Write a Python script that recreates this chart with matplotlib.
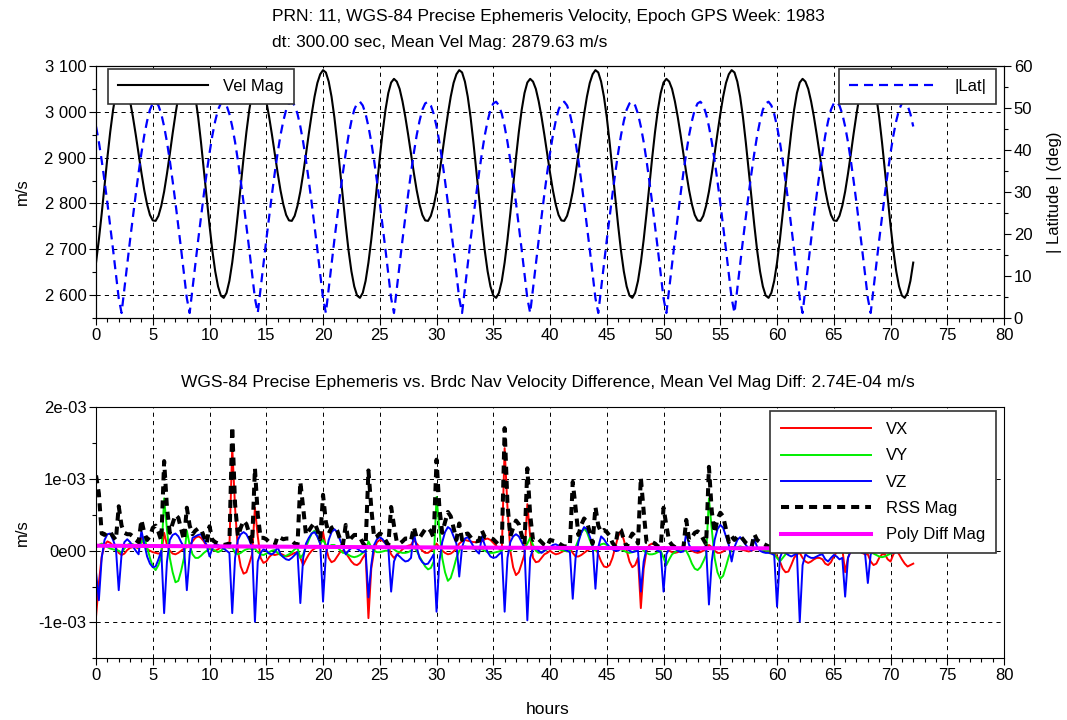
import numpy as np
import matplotlib
matplotlib.use("Agg")
import matplotlib.pyplot as plt
from matplotlib.ticker import MultipleLocator

# velocity magnitude (m/s), one sample every 15 min from 0 h to 72 h
vel_mag = [
    2671, 2721, 2778, 2839, 2900, 2956, 3004, 3041, 3064, 3072, 3066, 3050,
    3023, 2989, 2950, 2908, 2867, 2829, 2798, 2775, 2763, 2762, 2773, 2795,
    2826, 2865, 2908, 2953, 2995, 3033, 3063, 3082, 3091, 3086, 3066, 3033,
    2988, 2933, 2873, 2812, 2752, 2697, 2652, 2619, 2599, 2594, 2605, 2631,
    2671, 2721, 2778, 2839, 2900, 2956, 3004, 3041, 3064, 3072, 3066, 3050,
    3023, 2989, 2950, 2908, 2867, 2829, 2798, 2775, 2763, 2762, 2773, 2795,
    2826, 2865, 2908, 2953, 2995, 3033, 3063, 3082, 3091, 3086, 3066, 3033,
    2988, 2933, 2873, 2812, 2752, 2697, 2652, 2619, 2599, 2594, 2605, 2631,
    2671, 2721, 2778, 2839, 2900, 2956, 3004, 3041, 3064, 3072, 3066, 3050,
    3023, 2989, 2950, 2908, 2867, 2829, 2798, 2775, 2763, 2762, 2773, 2795,
    2826, 2865, 2908, 2953, 2995, 3033, 3063, 3082, 3091, 3086, 3066, 3033,
    2988, 2933, 2873, 2812, 2752, 2697, 2652, 2619, 2599, 2594, 2605, 2631,
    2671, 2721, 2778, 2839, 2900, 2956, 3004, 3041, 3064, 3072, 3066, 3050,
    3023, 2989, 2950, 2908, 2867, 2829, 2798, 2775, 2763, 2762, 2773, 2795,
    2826, 2865, 2908, 2953, 2995, 3033, 3063, 3082, 3091, 3086, 3066, 3033,
    2988, 2933, 2873, 2812, 2752, 2697, 2652, 2619, 2599, 2594, 2605, 2631,
    2671, 2721, 2778, 2839, 2900, 2956, 3004, 3041, 3064, 3072, 3066, 3050,
    3023, 2989, 2950, 2908, 2867, 2829, 2798, 2775, 2763, 2762, 2773, 2795,
    2826, 2865, 2908, 2953, 2995, 3033, 3063, 3082, 3091, 3086, 3066, 3033,
    2988, 2933, 2873, 2812, 2752, 2697, 2652, 2619, 2599, 2594, 2605, 2631,
    2671, 2721, 2778, 2839, 2900, 2956, 3004, 3041, 3064, 3072, 3066, 3050,
    3023, 2989, 2950, 2908, 2867, 2829, 2798, 2775, 2763, 2762, 2773, 2795,
    2826, 2865, 2908, 2953, 2995, 3033, 3063, 3082, 3091, 3086, 3066, 3033,
    2988, 2933, 2873, 2812, 2752, 2697, 2652, 2619, 2599, 2594, 2605, 2631,
    2671,
]

# |latitude| (deg), same 15 min sampling
lat_abs = [
    45.6, 41.9, 37.5, 32.6, 27.4, 21.9, 16.3, 10.5, 4.7, 1.2, 7.0, 12.8,
    18.6, 24.1, 29.5, 34.6, 39.3, 43.5, 46.9, 49.6, 51.1, 51.5, 50.6, 48.6,
    45.6, 41.9, 37.5, 32.6, 27.4, 21.9, 16.3, 10.5, 4.7, 1.2, 7.0, 12.8,
    18.6, 24.1, 29.5, 34.6, 39.3, 43.5, 46.9, 49.6, 51.1, 51.5, 50.6, 48.6,
    45.6, 41.9, 37.5, 32.6, 27.4, 21.9, 16.3, 10.5, 4.7, 1.2, 7.0, 12.8,
    18.6, 24.1, 29.5, 34.6, 39.3, 43.5, 46.9, 49.6, 51.1, 51.5, 50.6, 48.6,
    45.6, 41.9, 37.5, 32.6, 27.4, 21.9, 16.3, 10.5, 4.7, 1.2, 7.0, 12.8,
    18.6, 24.1, 29.5, 34.6, 39.3, 43.5, 46.9, 49.6, 51.1, 51.5, 50.6, 48.6,
    45.6, 41.9, 37.5, 32.6, 27.4, 21.9, 16.3, 10.5, 4.7, 1.2, 7.0, 12.8,
    18.6, 24.1, 29.5, 34.6, 39.3, 43.5, 46.9, 49.6, 51.1, 51.5, 50.6, 48.6,
    45.6, 41.9, 37.5, 32.6, 27.4, 21.9, 16.3, 10.5, 4.7, 1.2, 7.0, 12.8,
    18.6, 24.1, 29.5, 34.6, 39.3, 43.5, 46.9, 49.6, 51.1, 51.5, 50.6, 48.6,
    45.6, 41.9, 37.5, 32.6, 27.4, 21.9, 16.3, 10.5, 4.7, 1.2, 7.0, 12.8,
    18.6, 24.1, 29.5, 34.6, 39.3, 43.5, 46.9, 49.6, 51.1, 51.5, 50.6, 48.6,
    45.6, 41.9, 37.5, 32.6, 27.4, 21.9, 16.3, 10.5, 4.7, 1.2, 7.0, 12.8,
    18.6, 24.1, 29.5, 34.6, 39.3, 43.5, 46.9, 49.6, 51.1, 51.5, 50.6, 48.6,
    45.6, 41.9, 37.5, 32.6, 27.4, 21.9, 16.3, 10.5, 4.7, 1.2, 7.0, 12.8,
    18.6, 24.1, 29.5, 34.6, 39.3, 43.5, 46.9, 49.6, 51.1, 51.5, 50.6, 48.6,
    45.6, 41.9, 37.5, 32.6, 27.4, 21.9, 16.3, 10.5, 4.7, 1.2, 7.0, 12.8,
    18.6, 24.1, 29.5, 34.6, 39.3, 43.5, 46.9, 49.6, 51.1, 51.5, 50.6, 48.6,
    45.6, 41.9, 37.5, 32.6, 27.4, 21.9, 16.3, 10.5, 4.7, 1.2, 7.0, 12.8,
    18.6, 24.1, 29.5, 34.6, 39.3, 43.5, 46.9, 49.6, 51.1, 51.5, 50.6, 48.6,
    45.6, 41.9, 37.5, 32.6, 27.4, 21.9, 16.3, 10.5, 4.7, 1.2, 7.0, 12.8,
    18.6, 24.1, 29.5, 34.6, 39.3, 43.5, 46.9, 49.6, 51.1, 51.5, 50.6, 48.6,
    45.6,
]

# precise - broadcast velocity differences, in 1e-4 m/s, 15 min sampling
# (each row holds two 2 h ephemeris blocks)
vx_e4 = [
    -9.2, -4.5, -0.8, 0.8, 1.3, 1.1, 0.7, 0.4, -0.3, -0.6, -0.4, 0.1, 0.4, 0.5, 0.5, 0.3,
    1.8, 0.8, 0.2, 0.0, -0.2, -0.3, -0.4, -0.3, 2.5, 0.8, 0.0, -0.4, -0.5, -0.3, 0.0, 0.3,
    0.5, 0.8, 1.3, 1.8, 2.0, 1.8, 1.3, 0.6, 0.3, 0.1, 0.0, 0.2, 0.5, 0.6, 0.6, 0.5,
    14.5, 6.0, 0.0, -2.2, -3.2, -3.0, -1.8, -0.5, 6.0, 2.0, -1.0, -1.7, -1.5, -0.9, -0.5, -0.6,
    -0.5, -0.4, -0.6, -0.8, -0.7, -0.5, -0.3, -0.2, -1.0, -2.0, -1.2, -0.5, 0.0, 0.3, 0.5, 0.8,
    2.6, 0.5, -1.0, -1.6, -1.4, -0.8, -0.2, 0.0, -0.3, -0.9, -1.5, -1.9, -2.0, -1.7, -1.0, -0.4,
    -9.4, -2.5, 0.0, 1.2, 1.5, 1.4, 1.0, 0.5, -0.5, -1.0, -0.6, -0.2, 0.2, 0.5, 0.7, 0.8,
    1.5, 1.0, 0.5, 0.0, -0.3, -0.3, 0.0, 0.3, 1.0, 0.5, 0.0, -0.3, -0.5, -0.4, -0.1, 0.3,
    1.0, 1.3, 1.5, 1.4, 1.3, 1.2, 1.2, 1.3, 1.3, 1.6, 1.7, 1.5, 1.1, 0.7, 0.3, 0.0,
    14.3, 6.0, 0.0, -2.3, -3.4, -3.0, -1.8, -0.5, 6.5, 2.0, -1.0, -1.6, -1.5, -1.0, -0.5, -0.3,
    0.0, -0.3, -0.5, -0.4, -0.2, 0.0, 0.2, 0.3, -0.3, -0.8, -0.8, -0.6, -0.3, 0.0, 0.2, 0.3,
    0.5, -0.5, -1.5, -2.2, -2.3, -2.0, -1.0, 0.5, 2.0, 2.8, 1.5, 0.0, -1.5, -2.3, -2.0, -1.0,
    -8.0, -2.5, 0.0, 0.8, 1.0, 0.8, 0.5, 0.3, 0.5, 0.3, 0.0, -0.2, -0.3, -0.2, 0.0, 0.1,
    0.3, 0.2, 0.0, -0.2, -0.3, -0.2, 0.0, 0.2, 0.8, 0.5, 0.0, -0.3, -0.3, -0.1, 0.2, 0.4,
    0.5, 0.5, 0.3, 0.2, 0.1, 0.0, -0.1, 0.0, 0.2, 0.3, 0.3, 0.2, 0.0, -0.2, -0.3, -0.3,
    -0.8, -1.5, -2.5, -3.0, -2.9, -2.0, -1.0, -0.5, -0.3, -1.0, -1.5, -1.7, -1.5, -1.2, -1.0, -1.0,
    -1.2, -1.8, -2.0, -1.6, -0.8, -0.2, 0.2, 0.3, -3.0, -1.0, 0.0, 0.3, 0.2, 0.0, -0.3, -0.5,
    -0.5, -1.5, -2.0, -1.8, -1.0, -0.5, -0.5, -1.2, -1.5, -0.5, 0.0, -0.5, -1.2, -1.8, -2.2, -2.0,
    -1.8,
]

vy_e4 = [
    0.4, 0.8, 1.0, 0.8, 0.5, 0.3, 0.2, 0.1, 0.0, -0.3, 0.3, 0.8, 1.0, 0.9, 0.6, 0.4,
    1.2, 1.8, 0.5, -1.0, -2.2, -2.7, -2.0, -0.8, 7.3, 3.0, -1.0, -3.0, -4.4, -4.2, -2.8, -1.0,
    2.8, 0.8, -0.5, -1.0, -1.0, -0.7, -0.3, 0.0, 0.3, 0.2, 0.0, -0.2, 0.0, 0.3, 0.5, 0.4,
    0.5, -0.3, -0.5, -0.3, 0.0, 0.2, 0.3, 0.2, 0.3, -0.2, -0.5, -0.6, -0.4, -0.2, 0.0, 0.1,
    -0.3, -0.6, -0.8, -0.7, -0.5, -0.2, 0.2, 0.4, -1.0, -0.5, 0.5, 1.5, 2.4, 2.8, 2.0, 1.0,
    1.5, 0.8, 0.6, 0.8, 0.8, 0.5, 0.1, -0.3, -0.3, -0.6, -0.8, -0.9, -0.8, -0.6, -0.3, 0.0,
    1.3, 0.5, 0.0, -0.2, -0.2, -0.1, 0.0, 0.0, 0.5, 0.2, -0.1, -0.2, -0.3, -0.3, -0.2, 0.0,
    0.5, 0.0, -0.8, -1.5, -2.2, -2.6, -2.4, -1.5, 7.5, 3.0, -1.0, -3.0, -4.2, -3.8, -2.5, -1.0,
    0.0, 0.5, 0.6, 0.5, 0.4, 0.3, 0.3, 0.2, 0.2, 0.0, -0.2, -0.3, -0.3, -0.2, -0.1, 0.0,
    0.5, 0.2, 0.0, 0.3, 0.5, 0.5, 0.4, 0.3, 1.0, 1.8, 0.8, 0.0, -0.3, -0.2, 0.0, 0.2,
    0.3, 0.4, 0.3, 0.2, 0.1, 0.0, -0.1, 0.0, 0.5, 0.5, 1.5, 2.5, 3.1, 2.6, 1.5, 0.5,
    0.0, 0.5, 0.9, 1.0, 0.8, 0.5, 0.3, 0.3, 0.3, 0.2, 0.0, -0.2, -0.3, -0.2, 0.0, 0.2,
    0.5, 0.0, -0.3, -0.5, -0.5, -0.4, -0.2, 0.0, -1.0, -2.0, -1.2, -0.5, -0.2, 0.0, 0.1, 0.0,
    0.0, -0.8, -1.8, -2.5, -2.7, -2.3, -1.5, -0.6, 7.3, 3.0, -1.0, -3.0, -3.9, -3.5, -2.2, -0.8,
    0.2, 0.4, 0.5, 0.6, 0.5, 0.4, 0.3, 0.2, 0.3, 0.3, 0.2, 0.1, 0.0, 0.0, -0.2, -0.5,
    -1.0, -1.5, -1.0, -0.5, -0.2, 0.0, 0.1, 0.2, 0.2, 0.0, -0.2, -0.3, -0.2, 0.0, 0.2, 0.3,
    0.2, 0.3, 0.3, 0.2, 0.0, -0.1, -0.1, 0.0, -0.2, -0.3, 0.0, 0.2, 0.2, 0.0, -0.1, 0.0,
    0.0, -0.2, -0.4, -0.6, -0.8, -0.9, -0.8, -0.6, -0.4, -0.2, 0.0, 0.2, 0.3, 0.4, 0.5, 0.6,
    0.7,
]

vz_e4 = [
    -3.0, -6.9, -1.0, 1.5, 2.3, 2.4, 1.5, 0.4, -5.5, -0.5, 1.2, 1.6, 1.2, 0.6, 0.0, -0.5,
    2.8, 1.0, -0.8, -1.8, -2.3, -2.2, -1.2, 0.0, -8.7, -1.5, 1.5, 2.2, 2.4, 2.0, 1.2, 0.5,
    -5.5, -0.5, 1.8, 2.0, 2.2, 2.3, 1.5, 0.8, -0.8, 0.3, 1.0, 0.8, 0.5, 0.3, 0.0, -0.3,
    -8.7, -1.0, 1.5, 2.3, 2.6, 2.3, 1.5, 0.5, -9.9, -1.5, -0.3, 0.2, 0.0, -0.4, -0.5, -0.2,
    0.5, -0.5, -0.9, -1.2, -1.3, -1.0, -0.6, -0.2, -7.3, -1.0, 1.0, 1.8, 2.4, 2.6, 2.0, 1.0,
    -7.1, -0.5, 1.5, 2.6, 3.0, 2.6, 1.5, 0.5, -0.5, 0.0, 0.4, 0.5, 0.3, 0.0, -0.2, 0.0,
    -6.5, -2.0, 0.8, 1.6, 1.9, 1.6, 1.0, 0.4, -5.7, -1.5, -0.5, -0.8, -1.2, -1.5, -1.4, -1.0,
    2.5, 0.5, -1.0, -1.6, -1.9, -1.8, -1.2, -0.5, -8.5, -1.5, 1.2, 2.6, 3.3, 3.0, 2.0, 1.0,
    -3.6, 0.5, 1.7, 1.9, 1.3, 0.6, 0.0, -0.4, 2.0, 0.8, -0.2, -0.8, -1.0, -0.9, -0.5, -0.2,
    -8.5, -1.0, 1.2, 2.0, 2.3, 2.0, 1.2, 0.4, -9.7, -1.0, 0.3, 0.4, 0.0, -0.3, 0.0, 0.3,
    0.5, 0.8, 0.9, 0.7, 0.4, 0.2, 0.0, -0.2, -6.7, -1.0, 1.2, 2.5, 3.3, 3.0, 2.0, 0.8,
    -5.3, 0.5, 2.0, 1.6, 1.0, 0.5, 0.2, 0.0, 0.0, 0.3, 0.5, 0.3, 0.0, -0.2, -0.1, 0.0,
    -5.7, -1.5, 0.3, 0.6, 0.5, 0.3, 0.0, -0.2, -5.7, -0.5, 0.3, 0.5, 0.3, 0.0, -0.2, -0.1,
    2.5, 0.8, 0.2, 0.0, 0.0, 0.2, 0.4, 0.6, -7.5, -1.5, 1.5, 3.0, 3.6, 3.2, 2.0, 0.8,
    -1.5, 0.5, 1.5, 1.9, 1.4, 0.8, 0.3, 0.0, 1.6, 0.5, 0.0, -0.2, -0.3, -0.3, -0.4, -0.6,
    -7.8, -1.0, 0.0, -0.3, -0.6, -0.8, -0.6, -0.3, -9.9, -2.0, -0.5, -0.8, -1.0, -1.0, -0.8, -0.6,
    -0.5, -1.2, -1.5, -1.0, -0.6, -0.8, -1.2, -1.0, -6.4, -1.0, 0.0, 0.3, 0.3, 0.0, -0.3, -0.3,
    -4.5, -0.5, 0.0, 0.2, 0.2, 0.0, -0.1, 0.0, -0.2, -0.3, -0.2, 0.0, 0.1, 0.0, -0.1, 0.0,
    0.0,
]

rss_e4 = [
    10.5, 8.0, 2.4, 2.2, 2.7, 2.6, 2.0, 1.5, 6.2, 3.5, 2.5, 2.3, 2.3, 2.0, 1.5, 1.2,
    4.3, 2.5, 1.5, 2.0, 3.2, 3.5, 2.6, 1.4, 12.5, 6.0, 2.5, 3.8, 5.0, 4.6, 3.0, 1.5,
    6.0, 3.5, 2.3, 2.8, 3.1, 3.0, 2.0, 1.0, 3.4, 1.5, 1.2, 1.0, 0.9, 0.8, 0.9, 1.0,
    17.3, 6.5, 2.0, 3.2, 4.2, 3.7, 2.4, 1.0, 11.5, 5.0, 1.8, 1.8, 1.6, 1.2, 1.0, 0.8,
    2.0, 1.8, 1.6, 1.7, 1.7, 1.4, 1.0, 0.8, 9.6, 6.0, 2.2, 2.8, 3.4, 3.9, 2.9, 1.6,
    7.8, 4.0, 2.4, 3.2, 3.4, 2.8, 1.6, 0.8, 3.6, 1.3, 1.8, 2.2, 2.2, 1.9, 1.1, 0.6,
    11.2, 6.0, 1.8, 2.0, 2.4, 2.2, 1.5, 0.8, 6.1, 3.5, 1.2, 1.0, 1.3, 1.7, 1.7, 1.4,
    3.3, 1.8, 1.8, 2.4, 3.0, 3.2, 2.7, 1.8, 12.7, 6.0, 2.5, 4.0, 5.4, 4.8, 3.2, 1.5,
    3.8, 1.5, 2.3, 2.4, 1.9, 1.4, 1.3, 1.4, 2.8, 1.9, 1.8, 1.8, 1.6, 1.2, 0.8, 0.8,
    17.1, 6.5, 2.0, 3.2, 4.2, 3.7, 2.2, 0.9, 11.5, 5.0, 1.5, 1.7, 1.6, 1.2, 0.8, 0.6,
    1.5, 1.4, 1.3, 1.1, 0.8, 0.6, 0.6, 0.7, 9.6, 6.0, 2.2, 3.6, 4.5, 4.0, 2.6, 1.0,
    6.1, 3.5, 2.6, 2.9, 2.6, 2.1, 1.1, 0.6, 3.1, 2.9, 1.6, 0.5, 1.6, 2.4, 2.0, 1.0,
    10.2, 5.5, 1.2, 1.1, 1.2, 1.0, 0.6, 0.5, 6.0, 3.5, 1.3, 0.8, 0.5, 0.4, 0.4, 0.4,
    4.3, 1.5, 1.9, 2.5, 2.7, 2.4, 1.6, 0.9, 11.7, 5.5, 2.5, 4.4, 5.3, 4.8, 3.0, 1.2,
    2.0, 1.5, 2.0, 2.1, 1.6, 1.1, 0.8, 0.5, 2.3, 1.5, 1.2, 1.0, 0.8, 0.6, 0.6, 0.8,
    8.0, 4.0, 2.7, 3.1, 3.0, 2.2, 1.2, 0.6, 10.0, 5.0, 1.6, 2.0, 2.1, 1.8, 1.5, 1.3,
    1.5, 2.2, 2.5, 1.9, 1.0, 0.8, 1.2, 1.0, 7.0, 3.0, 0.5, 0.6, 0.5, 0.3, 0.5, 0.6,
    4.7, 1.6, 2.0, 1.9, 1.3, 1.0, 0.9, 1.3, 1.6, 0.7, 0.3, 0.6, 1.2, 1.9, 2.3, 2.1,
    1.9,
]

# polynomial fit of the magnitude difference (1e-4 m/s), every 6 h
poly_hours = [0, 6, 12, 18, 24, 30, 36, 42, 48, 54, 60, 66, 72]
poly_e4 = [0.70, 0.65, 0.60, 0.55, 0.50, 0.46, 0.42, 0.39, 0.37, 0.35, 0.33, 0.31, 0.30]

vel_ticks = [2600, 2700, 2800, 2900, 3000, 3100]
vel_labels = ["2 600", "2 700", "2 800", "2 900", "3 000", "3 100"]
diff_ticks = [-1e-3, 0.0, 1e-3, 2e-3]
diff_labels = ["-1e-03", "0e00", "1e-03", "2e-03"]

plt.rcParams["font.family"] = ["Liberation Sans", "DejaVu Sans"]
plt.rcParams["font.size"] = 12
plt.rcParams["lines.scale_dashes"] = False

GRID_STYLE = dict(color="black", linestyle=(0, (3.0, 3.0)), linewidth=0.7)
LEG_STYLE = dict(fancybox=False, framealpha=1.0, borderaxespad=0.0,
                 handlelength=5.4, handletextpad=0.9, fontsize=12)
TITLE_SIZE = 12.5


def style_axes(ax):
    for s in ax.spines.values():
        s.set_color("black")
        s.set_linewidth(0.8)
    ax.tick_params(which="major", direction="out", length=5, width=0.8, pad=2, labelsize=12)
    ax.tick_params(which="minor", direction="out", length=3, width=0.8)
    ax.xaxis.set_major_locator(MultipleLocator(5))
    ax.xaxis.set_minor_locator(MultipleLocator(1))


def style_legend(leg):
    frame = leg.get_frame()
    frame.set_edgecolor("#333333")
    frame.set_linewidth(1.2)


hours = np.arange(len(vel_mag)) * 0.25
diff_hours = np.arange(len(vx_e4)) * 0.25

fig = plt.figure(figsize=(10.67, 7.2), dpi=100)

# --- velocity magnitude and |latitude| ---
ax1 = fig.add_axes([0.0900, 0.5583, 0.8510, 0.3500])
ax1.set_axisbelow(True)
vel_line, = ax1.plot(hours, vel_mag, color="black", linewidth=1.5, label="Vel Mag")
ax1.set_xlim(0, 80)
ax1.set_ylim(2550, 3100)
style_axes(ax1)
ax1.set_yticks(vel_ticks)
ax1.set_yticklabels(vel_labels)
ax1.yaxis.set_minor_locator(MultipleLocator(50))
ax1.grid(True, which="major", **GRID_STYLE)

ax1r = ax1.twinx()
lat_line, = ax1r.plot(hours, lat_abs, color="blue", linewidth=1.6,
                      linestyle=(0, (6.5, 4.3)), label="|Lat|")
ax1r.set_ylim(0, 60)
style_axes(ax1r)
ax1r.yaxis.set_major_locator(MultipleLocator(10))
ax1r.yaxis.set_minor_locator(MultipleLocator(5))

leg_vel = ax1r.legend(handles=[vel_line], loc="upper left", borderpad=0.6,
                      bbox_to_anchor=(12 / 908, 1 - 3 / 252), **LEG_STYLE)
style_legend(leg_vel)
ax1r.add_artist(leg_vel)
leg_lat = ax1r.legend(handles=[lat_line], loc="upper right", borderpad=0.6,
                      bbox_to_anchor=(1 - 8 / 908, 1 - 3 / 252), **LEG_STYLE)
style_legend(leg_lat)

# --- precise vs broadcast differences ---
ax2 = fig.add_axes([0.0900, 0.0857, 0.8510, 0.3486])
ax2.set_axisbelow(True)
ax2.plot(diff_hours, np.array(vx_e4) * 1e-4, color="#ff0000", linewidth=1.4, label="VX")
ax2.plot(diff_hours, np.array(vy_e4) * 1e-4, color="#00ee00", linewidth=1.4, label="VY")
ax2.plot(diff_hours, np.array(vz_e4) * 1e-4, color="#0000ff", linewidth=1.4, label="VZ")
ax2.plot(diff_hours, np.array(rss_e4) * 1e-4, color="black", linewidth=2.9,
         linestyle=(0, (5.8, 4.3)), label="RSS Mag")
ax2.plot(poly_hours, np.array(poly_e4) * 1e-4, color="#ff00ff", linewidth=2.9,
         label="Poly Diff Mag")
ax2.set_xlim(0, 80)
ax2.set_ylim(-1.5e-3, 2e-3)
style_axes(ax2)
ax2.set_yticks(diff_ticks)
ax2.set_yticklabels(diff_labels)
ax2.yaxis.set_minor_locator(MultipleLocator(5e-4))
ax2.grid(True, which="major", **GRID_STYLE)

leg_diff = ax2.legend(loc="upper right", bbox_to_anchor=(1 - 8 / 908, 1 - 4 / 251),
                      borderpad=0.65, labelspacing=0.68, **LEG_STYLE)
style_legend(leg_diff)

# titles and axis labels
fig.text(272 / 1067, 1 - 17 / 720,
         "PRN: 11, WGS-84 Precise Ephemeris Velocity, Epoch GPS Week: 1983",
         ha="left", va="center", fontsize=TITLE_SIZE)
fig.text(272 / 1067, 1 - 43 / 720, "dt: 300.00 sec, Mean Vel Mag: 2879.63 m/s",
         ha="left", va="center", fontsize=TITLE_SIZE)
fig.text(548 / 1067, 1 - 383 / 720,
         "WGS-84 Precise Ephemeris vs. Brdc Nav Velocity Difference, "
         "Mean Vel Mag Diff: 2.74E-04 m/s",
         ha="center", va="center", fontsize=TITLE_SIZE)
fig.text(548 / 1067, 1 - 710 / 720, "hours", ha="center", va="center", fontsize=TITLE_SIZE)
fig.text(22 / 1067, 1 - 192 / 720, "m/s", rotation=90, ha="center", va="center")
fig.text(22 / 1067, 1 - 533 / 720, "m/s", rotation=90, ha="center", va="center")
fig.text(1055 / 1067, 1 - 192 / 720, "| Latitude | (deg)", rotation=90,
         ha="center", va="center")

fig.savefig("out.png", dpi=100)
